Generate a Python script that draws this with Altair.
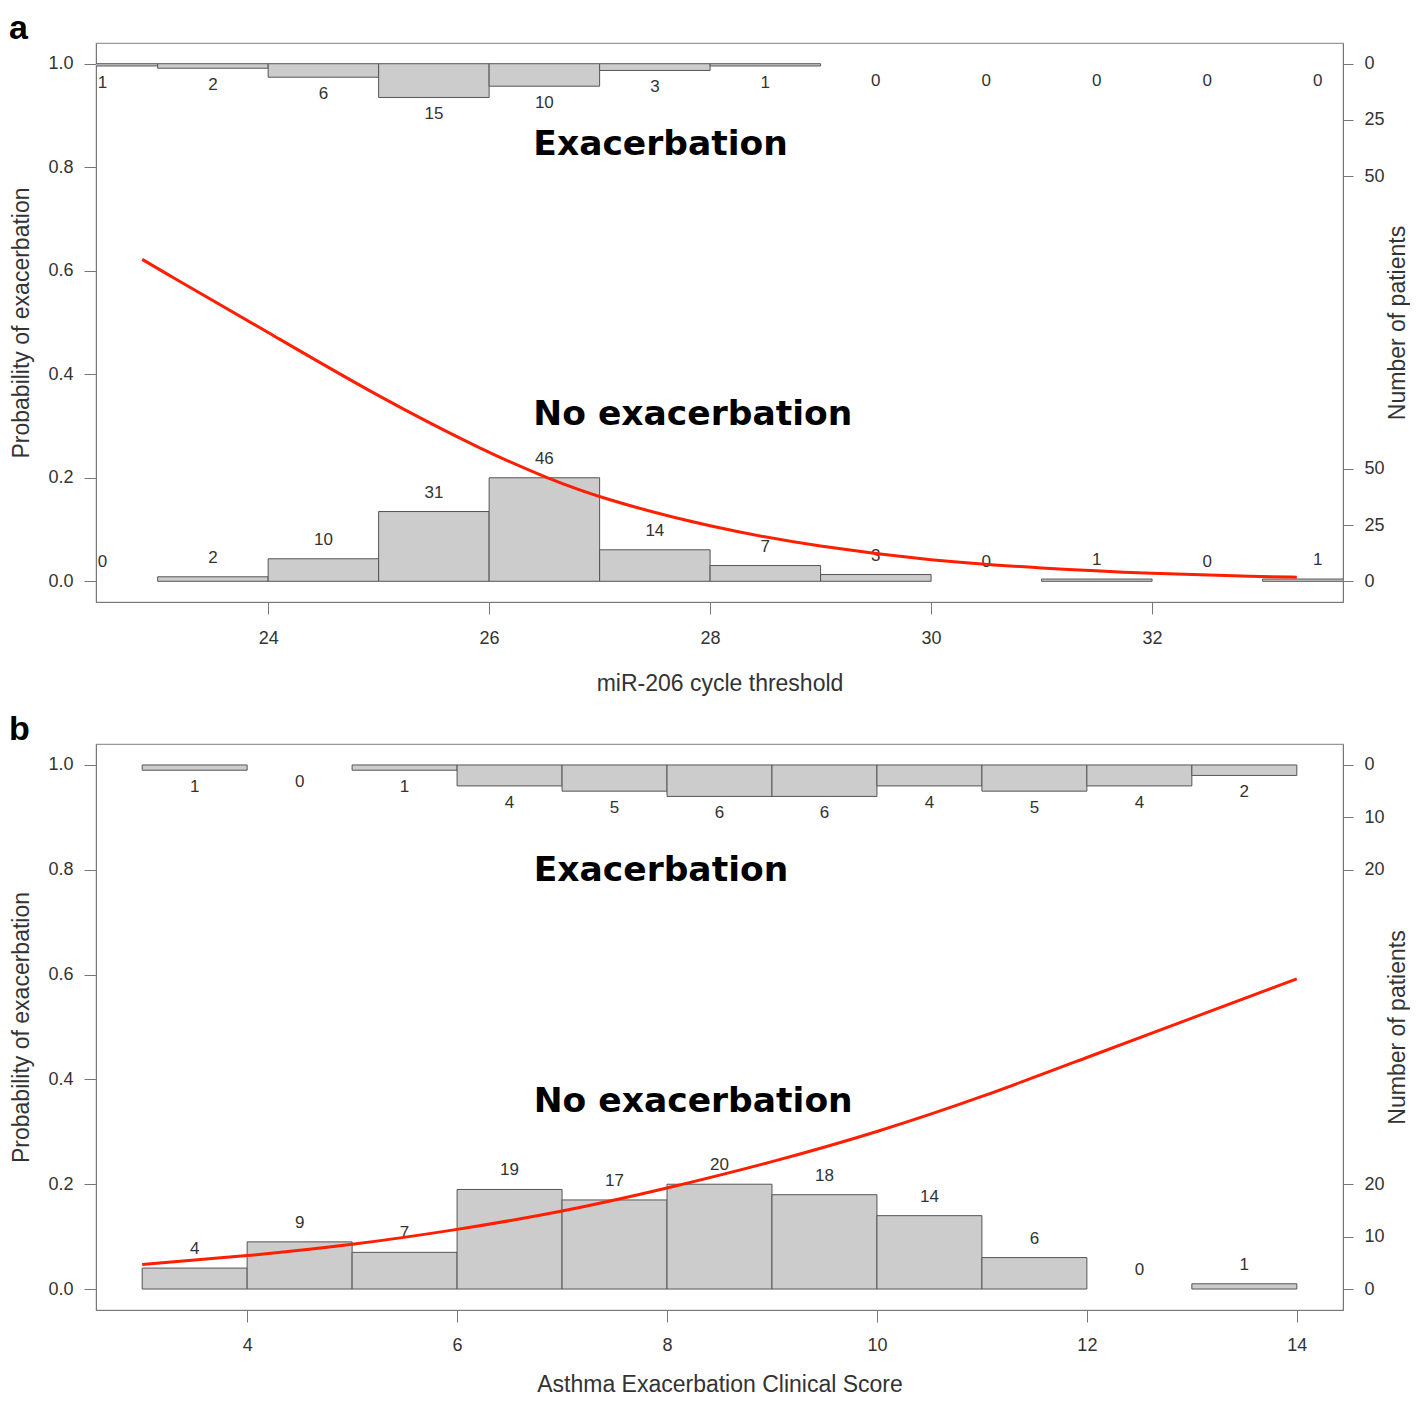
import altair as alt
import pandas as pd

# ---------------- Panel a: miR-206 cycle threshold ----------------
a_edges = [22, 23, 24, 25, 26, 27, 28, 29, 30, 31, 32, 33, 34]
a_no_exac = [0, 2, 10, 31, 46, 14, 7, 3, 0, 1, 0, 1]
a_exac = [1, 2, 6, 15, 10, 3, 1, 0, 0, 0, 0, 0]
a_curve_x = [22.86, 23, 24, 25, 26, 26.52, 27, 28, 29, 30, 31, 32, 33, 33.31]
a_curve_p = [0.622, 0.604, 0.481, 0.356, 0.247, 0.200, 0.161, 0.104, 0.066, 0.040, 0.025, 0.015, 0.009, 0.008]
a_xticks = [24, 26, 28, 30, 32]
a_count_ticks = [0, 25, 50]
a_xtitle = "miR-206 cycle threshold"

# ---------------- Panel b: Asthma Exacerbation Clinical Score ----------------
b_edges = [3, 4, 5, 6, 7, 8, 9, 10, 11, 12, 13, 14]
b_no_exac = [4, 9, 7, 19, 17, 20, 18, 14, 6, 0, 1]
b_exac = [1, 0, 1, 4, 5, 6, 6, 4, 5, 4, 2]
b_curve_x = [3, 4, 5, 6, 7, 8, 9, 10, 11, 12, 13, 14]
b_curve_p = [0.047, 0.063, 0.084, 0.113, 0.147, 0.192, 0.242, 0.299, 0.366, 0.442, 0.517, 0.592]
b_xticks = [4, 6, 8, 10, 12, 14]
b_count_ticks = [0, 10, 20]
b_xtitle = "Asthma Exacerbation Clinical Score"

prob_ticks = [0.0, 0.2, 0.4, 0.6, 0.8, 1.0]
group_labels = ["Exacerbation", "No exacerbation"]

FONT = "Liberation Sans"
TXT = "#333333"
AX = "#777777"


def panel(letter, edges, no_exac, exac, cx, cp, xticks, count_ticks, xtitle, ann_x, ann_y,
          height, label_pad, title_pad):
    # bars are scaled so that the tallest "no exacerbation" bin reaches 0.2
    s = 0.2 / max(no_exac)
    lo, hi = min(cx), max(cx)
    pad = 0.04 * (hi - lo)
    xs = alt.Scale(domain=[lo - pad, hi + pad], nice=False, zero=False)
    ys = alt.Scale(domain=[-0.04, 1.04], nice=False, zero=False)
    x_axis = alt.Axis(orient="bottom", values=xticks, title=xtitle, format="d",
                      tickSize=12, labelPadding=label_pad, titlePadding=title_pad)

    bins = pd.DataFrame({"x0": edges[:-1], "x1": edges[1:], "no": no_exac, "ex": exac})
    bins["mid"] = (bins["x0"] + bins["x1"]) / 2
    bins["h_no"] = bins["no"] * s
    bins["y_ex"] = 1 - bins["ex"] * s
    bins["zero"] = 0.0
    bins["one"] = 1.0

    right_vals = [c * s for c in count_ticks] + [1 - c * s for c in count_ticks]
    right_expr = (
        f"datum.value < 0.5 ? format(datum.value / {s}, '.0f') "
        f": format((1 - datum.value) / {s}, '.0f')"
    )

    bar_style = dict(fill="#cccccc", stroke="#555555", strokeWidth=1, clip=True)

    bottom = alt.Chart(bins).transform_filter("datum.no > 0").mark_rect(**bar_style).encode(
        x=alt.X("x0:Q", scale=xs, axis=x_axis),
        x2="x1:Q",
        y=alt.Y("zero:Q", scale=ys, axis=alt.Axis(orient="left", values=prob_ticks, format=".1f",
                                                  title="Probability of exacerbation",
                                                  tickSize=12, labelPadding=11, titlePadding=14)),
        y2="h_no:Q",
    )

    top = alt.Chart(bins).transform_filter("datum.ex > 0").mark_rect(**bar_style).encode(
        x=alt.X("x0:Q", scale=xs, axis=x_axis),
        x2="x1:Q",
        y=alt.Y("one:Q", scale=ys, axis=alt.Axis(orient="right", values=right_vals, labelExpr=right_expr,
                                                 title="Number of patients", titleAngle=270,
                                                 titleBaseline="top",
                                                 tickSize=10, labelPadding=11, titlePadding=2)),
        y2="y_ex:Q",
    )

    lab_style = dict(font=FONT, fontSize=17, color=TXT, baseline="middle", align="center")
    lab_bottom = alt.Chart(bins).mark_text(dy=-19, **lab_style).encode(
        x=alt.X("mid:Q", scale=xs, axis=x_axis),
        y=alt.Y("h_no:Q", scale=ys, axis=None),
        text="no:Q",
    )
    lab_top = alt.Chart(bins).mark_text(dy=17, **lab_style).encode(
        x=alt.X("mid:Q", scale=xs, axis=x_axis),
        y=alt.Y("y_ex:Q", scale=ys, axis=None),
        text="ex:Q",
    )

    curve_df = pd.DataFrame({"x": cx, "p": cp})
    curve = alt.Chart(curve_df).mark_line(color="#ff1e00", strokeWidth=3, interpolate="basis").encode(
        x=alt.X("x:Q", scale=xs, axis=x_axis),
        y=alt.Y("p:Q", scale=ys, axis=None),
    )

    ann_df = pd.DataFrame({"x": ann_x, "y": ann_y, "t": group_labels})
    ann = alt.Chart(ann_df).mark_text(font="DejaVu Sans", fontWeight="bold", fontSize=34.5,
                                      align="left", baseline="middle", color="black").encode(
        x=alt.X("x:Q", scale=xs, axis=x_axis),
        y=alt.Y("y:Q", scale=ys, axis=None),
        text="t:N",
    )

    return alt.layer(bottom, top, lab_bottom, lab_top, curve, ann).resolve_axis(y="independent").properties(
        width=1247, height=height,
        title=alt.Title(letter, anchor="start", frame="group", dx=-87, offset=-30,
                        baseline="alphabetic", fontSize=34, fontWeight="bold", font=FONT, color="black"),
    )


pa = panel("a", a_edges, a_no_exac, a_exac, a_curve_x, a_curve_p, a_xticks, a_count_ticks, a_xtitle,
           ann_x=[26.40, 26.40], ann_y=[0.843, 0.321], height=559, label_pad=15, title_pad=25)
pb = panel("b", b_edges, b_no_exac, b_exac, b_curve_x, b_curve_p, b_xticks, b_count_ticks, b_xtitle,
           ann_x=[6.73, 6.73], ann_y=[0.797, 0.357], height=566, label_pad=14, title_pad=19)

chart = alt.vconcat(pa, pb, spacing=16).properties(
    padding={"top": 3, "left": 0, "right": 0, "bottom": 0}
).configure_view(
    stroke="#999999", strokeWidth=1.2
).configure_axis(
    grid=False, labelFont=FONT, labelFontSize=18, labelColor=TXT, labelAngle=0,
    labelFlush=False, labelOverlap=False,
    titleFont=FONT, titleFontSize=23, titleFontWeight="normal", titleColor=TXT,
    tickColor=AX, tickWidth=1, domainColor=AX, domainWidth=1,
)

chart.save("out.html", embed_options={"renderer": "svg", "actions": False})
